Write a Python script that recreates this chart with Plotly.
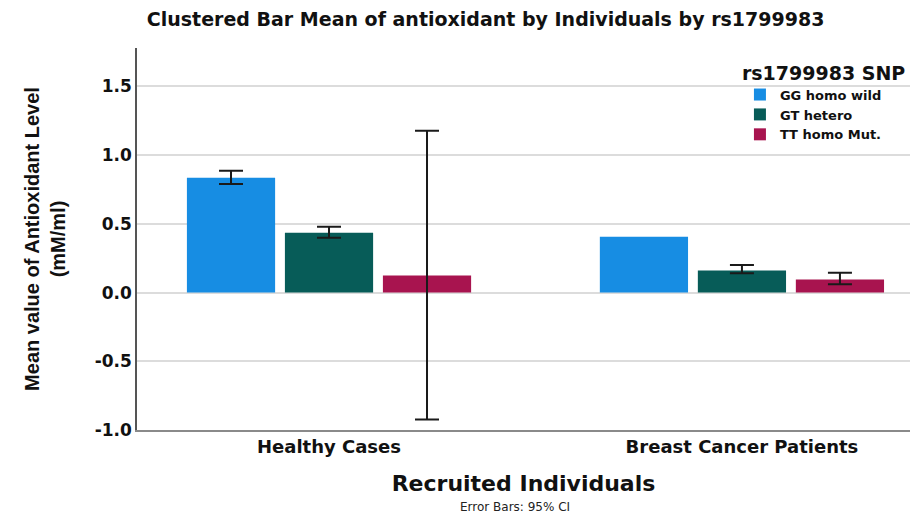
import plotly.graph_objects as go

categories = ["Healthy Cases", "Breast Cancer Patients"]
genotypes = ["GG homo wild", "GT hetero", "TT homo Mut."]
colors = ["#178de3", "#075c58", "#a8144f"]
y_tick_values = [-1.0, -0.5, 0.0, 0.5, 1.0, 1.5]
y_tick_labels = ["-1.0", "-0.5", "0.0", "0.5", "1.0", "1.5"]

# means and 95% CI bounds per genotype, [healthy, cancer]; None = no error bar shown
means = {
    "GG homo wild": [0.836, 0.407],
    "GT hetero": [0.436, 0.160],
    "TT homo Mut.": [0.124, 0.095],
}
ci_upper = {
    "GG homo wild": [0.887, None],
    "GT hetero": [0.480, 0.200],
    "TT homo Mut.": [1.178, 0.145],
}
ci_lower = {
    "GG homo wild": [0.790, None],
    "GT hetero": [0.400, 0.140],
    "TT homo Mut.": [-0.924, 0.060],
}

FONT = "DejaVu Sans"

fig = go.Figure()
for g, c in zip(genotypes, colors):
    m = means[g]
    fig.add_trace(go.Bar(
        x=categories, y=m, name=g, offsetgroup=g,
        marker=dict(color=c, line=dict(width=0)),
    ))
for g in genotypes:
    m = means[g]
    keep = [i for i in range(len(categories)) if ci_upper[g][i] is not None]
    fig.add_trace(go.Bar(
        x=[categories[i] for i in keep], y=[m[i] for i in keep],
        offsetgroup=g, showlegend=False, hoverinfo="skip",
        marker=dict(color="rgba(0,0,0,0)", line=dict(width=0)),
        error_y=dict(type="data", symmetric=False,
                     array=[ci_upper[g][i] - m[i] for i in keep],
                     arrayminus=[m[i] - ci_lower[g][i] for i in keep],
                     color="#1a1a1a", thickness=2, width=12),
    ))

fig.update_layout(
    width=908, height=506,
    paper_bgcolor="white", plot_bgcolor="white",
    margin=dict(l=129, r=6, t=40, b=84),
    barmode="group", bargap=0.288, bargroupgap=0.1,
    font=dict(family=FONT, color="#111"),
    title=dict(text="<b>Clustered Bar Mean of antioxidant by Individuals by rs1799983</b>",
               x=0.526, xanchor="center", y=0.991, yanchor="top",
               font=dict(size=19, family=FONT, color="#111")),
    legend=dict(
        title=dict(text="<b>rs1799983 SNP</b>", font=dict(size=19, family=FONT, color="#111")),
        font=dict(size=13, family=FONT, color="#111", weight="bold"),
        x=0.78, xanchor="left", y=0.982, yanchor="top",
        bgcolor="rgba(0,0,0,0)", tracegroupgap=0,
    ),
    showlegend=True,
)

fig.update_xaxes(
    type="category", range=[-0.465, 1.407], automargin=False,
    showline=True, linecolor="#8a8a8a", linewidth=1.5,
    showgrid=False, ticks="",
    tickfont=dict(size=18, family=FONT, color="#111", weight="bold"),
    title=dict(text="<b>Recruited Individuals</b>", font=dict(size=22, family=FONT, color="#111"),
               standoff=19),
)
fig.update_yaxes(
    range=[-1.0, 1.78], tickvals=y_tick_values, ticktext=y_tick_labels,
    automargin=False,
    showline=True, linecolor="#555", linewidth=1.5,
    showgrid=True, gridcolor="#dcdcdc", gridwidth=1.5,
    zeroline=False, ticks="",
    tickfont=dict(size=17, family=FONT, color="#111", weight="bold"),
    title=dict(text="<b>Mean value of Antioxidant Level<br>(mM/ml)</b>",
               font=dict(size=20, family="Liberation Sans Narrow, Liberation Sans", color="#111"),
               standoff=24),
)

fig.add_annotation(text="Error Bars: 95% CI", xref="paper", yref="paper",
                   x=0.489, y=-0.201, xanchor="center", yanchor="middle",
                   showarrow=False, font=dict(size=12, family=FONT, color="#222"))

fig.write_html("out.html")
